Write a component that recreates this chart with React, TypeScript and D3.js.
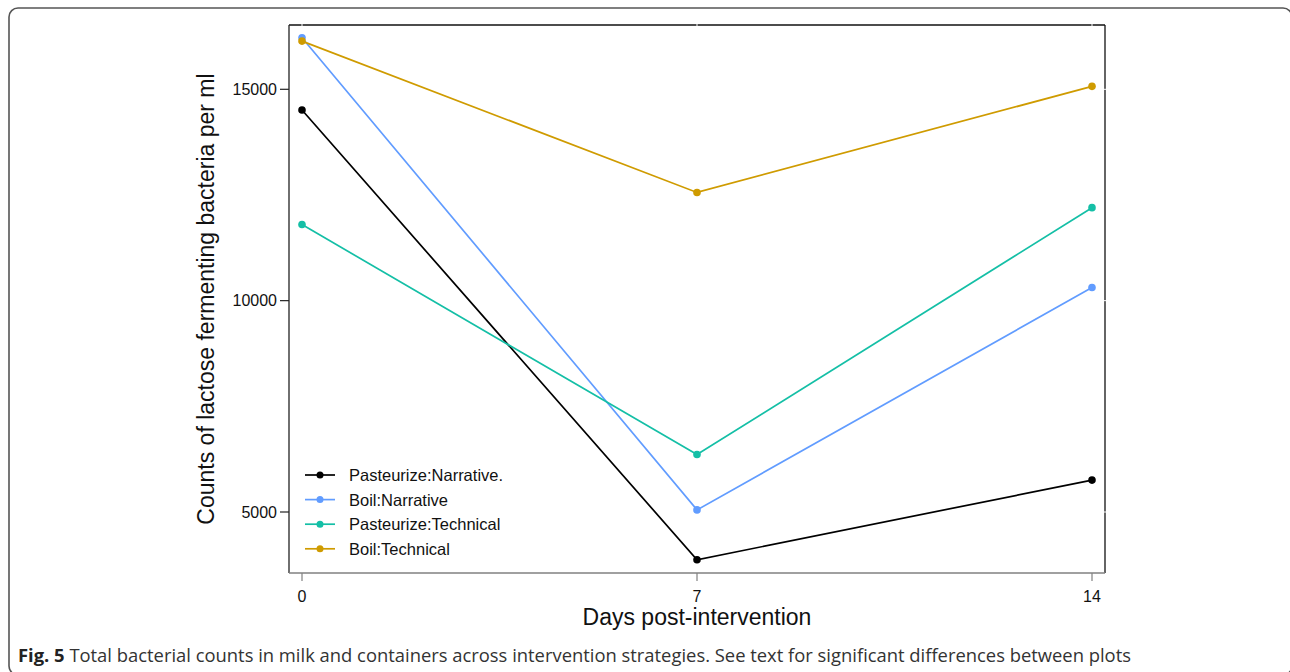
import React from 'react';
import * as d3 from 'd3';

// data
const days = [0, 7, 14];
const xTicks = [0, 7, 14];
const yTicks = [5000, 10000, 15000];

const seriesNames = ['Pasteurize:Narrative.', 'Boil:Narrative', 'Pasteurize:Technical', 'Boil:Technical'];
const seriesColors = ['#000000', '#619CFF', '#14BFA6', '#CF9B00'];
const pasteurizeNarrative = [14510, 3870, 5755];
const boilNarrative = [16220, 5050, 10310];
const pasteurizeTechnical = [11800, 6360, 12200];
const boilTechnical = [16140, 12560, 15070];
const seriesValues = [pasteurizeNarrative, boilNarrative, pasteurizeTechnical, boilTechnical];

const captionLabel = 'Fig. 5';
const captionText = ' Total bacterial counts in milk and containers across intervention strategies. See text for significant differences between plots';

const W = 1290;
const H = 672;
const plot = { left: 289, right: 1105, top: 25, bottom: 573 };

const App = () => {
  const x = d3.scaleLinear().domain([0, 14]).range([302, 1092]);
  const y = d3.scaleLinear().domain([5000, 15000]).range([512, 89.3]);

  const line = d3.line<[number, number]>()
    .x(d => x(d[0]))
    .y(d => y(d[1]));

  const font = '"Liberation Sans", Arial, sans-serif';

  return (
    <div style={{ position: 'absolute', left: 0, top: 0 }}>
      <svg width={W} height={H} style={{ display: 'block', background: '#fff' }}>
        {/* figure frame */}
        <rect x={9} y={8} width={1283} height={667} rx={9} fill="none" stroke="#555" strokeWidth={1.6} />

        {/* plot box */}
        <line x1={plot.left} x2={plot.right} y1={plot.top} y2={plot.top} stroke="#111" strokeWidth={1.3} />
        <line x1={plot.right} x2={plot.right} y1={plot.top} y2={plot.bottom} stroke="#111" strokeWidth={1.3} />
        <line x1={plot.left} x2={plot.left} y1={plot.top} y2={plot.bottom} stroke="#222" strokeWidth={1.3} />
        <line x1={plot.left} x2={plot.right} y1={plot.bottom} y2={plot.bottom} stroke="#808080" strokeWidth={1.5} />

        {/* white notches on the opposite sides */}
        {xTicks.map(t => (
          <line key={'tn' + t} x1={x(t)} x2={x(t)} y1={plot.top - 1} y2={plot.top + 1.5} stroke="#fff" strokeWidth={1} />
        ))}
        {yTicks.map(t => (
          <line key={'rn' + t} x1={plot.right - 1.5} x2={plot.right + 1} y1={y(t)} y2={y(t)} stroke="#fff" strokeWidth={1} />
        ))}

        {/* y axis */}
        {yTicks.map(t => (
          <g key={'y' + t}>
            <line x1={plot.left - 9} x2={plot.left} y1={y(t)} y2={y(t)} stroke="#222" strokeWidth={1.2} />
            <text x={plot.left - 12} y={y(t)} dy="0.36em" textAnchor="end" fontFamily={font} fontSize={16} fill="#111">
              {t}
            </text>
          </g>
        ))}

        {/* x axis */}
        {xTicks.map(t => (
          <g key={'x' + t}>
            <line x1={x(t)} x2={x(t)} y1={plot.bottom} y2={plot.bottom + 8} stroke="#808080" strokeWidth={1.2} />
            <text x={x(t)} y={602} textAnchor="middle" fontFamily={font} fontSize={16} fill="#111">
              {t}
            </text>
          </g>
        ))}

        <text x={697} y={625} textAnchor="middle" fontFamily={font} fontSize={23} fill="#111">
          Days post-intervention
        </text>
        <text
          transform={`translate(214,${(plot.top + plot.bottom) / 2}) rotate(-90)`}
          textAnchor="middle"
          fontFamily={font}
          fontSize={23}
          fill="#111"
        >
          Counts of lactose fermenting bacteria per ml
        </text>

        {/* series */}
        {seriesValues.map((vals, i) => {
          const pts = days.map((d, j) => [d, vals[j]] as [number, number]);
          return (
            <g key={seriesNames[i]}>
              <path d={line(pts) || ''} fill="none" stroke={seriesColors[i]} strokeWidth={1.7} />
              {pts.map((p, j) => (
                <circle key={j} cx={x(p[0])} cy={y(p[1])} r={3.8} fill={seriesColors[i]} />
              ))}
            </g>
          );
        })}

        {/* legend */}
        {seriesNames.map((name, i) => {
          const ly = 475 + i * 24.6;
          return (
            <g key={'lg' + name}>
              <line x1={305} x2={335} y1={ly} y2={ly} stroke={seriesColors[i]} strokeWidth={1.7} />
              <circle cx={320} cy={ly} r={3.5} fill={seriesColors[i]} />
              <text x={349} y={ly} dy="0.36em" fontFamily={font} fontSize={16.5} fill="#111">
                {name}
              </text>
            </g>
          );
        })}

        {/* caption */}
        <text x={18} y={662} fontFamily='"Open Sans", sans-serif' fontSize={17.5} fill="#333" textLength={1113} lengthAdjust="spacingAndGlyphs">
          <tspan fontWeight="bold" fill="#222">{captionLabel}</tspan>
          <tspan>{captionText}</tspan>
        </text>
      </svg>
    </div>
  );
};

export default App;
